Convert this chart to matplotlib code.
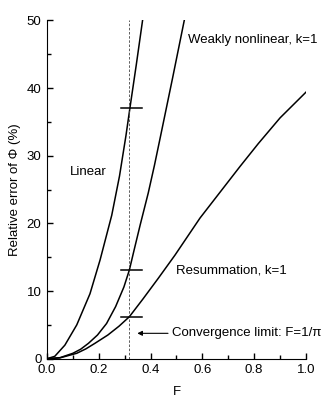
import numpy as np
import matplotlib
matplotlib.use("Agg")
import matplotlib.pyplot as plt
from matplotlib.ticker import MultipleLocator, FormatStrFormatter

plt.rcParams['font.family'] = ['Liberation Sans', 'DejaVu Sans']

# curves
linear_F = [0.0, 0.03, 0.069, 0.115, 0.166, 0.205, 0.25, 0.28, 0.305, 0.32, 0.345, 0.369]
linear_v = [0.0, 0.35, 2.0, 5.0, 9.6, 14.6, 21.2, 27.0, 33.0, 37.0, 43.5, 50.0]

weak_F = [0.0, 0.05, 0.10, 0.13, 0.16, 0.195, 0.23, 0.265, 0.297, 0.318, 0.336, 0.36, 0.391, 0.415, 0.439, 0.485, 0.53]
weak_v = [0.0, 0.15, 0.8, 1.4, 2.27, 3.5, 5.2, 7.7, 10.6, 13.1, 16.0, 19.8, 24.5, 28.6, 33.0, 41.5, 50.0]

resum_F = [0.0, 0.05, 0.115, 0.15, 0.185, 0.235, 0.278, 0.318, 0.37, 0.43, 0.494, 0.591, 0.668, 0.745, 0.816, 0.9, 1.0]
resum_v = [0.0, 0.12, 0.8, 1.45, 2.27, 3.5, 4.8, 6.2, 8.8, 11.9, 15.3, 20.8, 24.6, 28.4, 31.8, 35.6, 39.4]

F_limit = 1 / np.pi
mark_v = [37.0, 13.1, 6.15]

fig = plt.figure(figsize=(3.27, 4.09), dpi=100)
ax = fig.add_axes([0.1437, 0.123, 0.792, 0.827])

ax.plot(linear_F, linear_v, color='black', lw=1.1)
ax.plot(weak_F, weak_v, color='black', lw=1.1)
ax.plot(resum_F, resum_v, color='black', lw=1.1)

ax.axvline(F_limit, color='#444444', lw=0.6, ls=(0, (3, 2)))
for v in mark_v:
    ax.plot([0.284, 0.367], [v, v], color='black', lw=1.1)

ax.annotate('', xy=(0.338, 3.75), xytext=(0.478, 3.75),
            arrowprops=dict(arrowstyle='-|>', color='black', lw=0.8, mutation_scale=7))
ax.text(0.483, 3.75, 'Convergence limit: F=1/\u03c0', fontsize=9.5, va='center', ha='left')
ax.text(0.09, 27.6, 'Linear', fontsize=9.5, va='center', ha='left')
ax.text(0.543, 47.1, 'Weakly nonlinear, k=1', fontsize=9.5, va='center', ha='left')
ax.text(0.497, 13.0, 'Resummation, k=1', fontsize=9.5, va='center', ha='left')

ax.set_xlim(0, 1.0)
ax.set_ylim(0, 50)
ax.xaxis.set_major_locator(MultipleLocator(0.2))
ax.xaxis.set_minor_locator(MultipleLocator(0.1))
ax.yaxis.set_major_locator(MultipleLocator(10))
ax.yaxis.set_minor_locator(MultipleLocator(5))
ax.xaxis.set_major_formatter(FormatStrFormatter('%.1f'))
ax.tick_params(which='major', direction='in', length=4.5, width=1, labelsize=9.5, pad=4)
ax.tick_params(which='minor', direction='in', length=3, width=1)
ax.spines['top'].set_visible(False)
ax.spines['right'].set_visible(False)
ax.set_xlabel('F', fontsize=9.5, labelpad=7)
ax.set_ylabel('Relative error of \u03a6 (%)', fontsize=9.5, labelpad=4)

fig.savefig('out.png', dpi=100)
